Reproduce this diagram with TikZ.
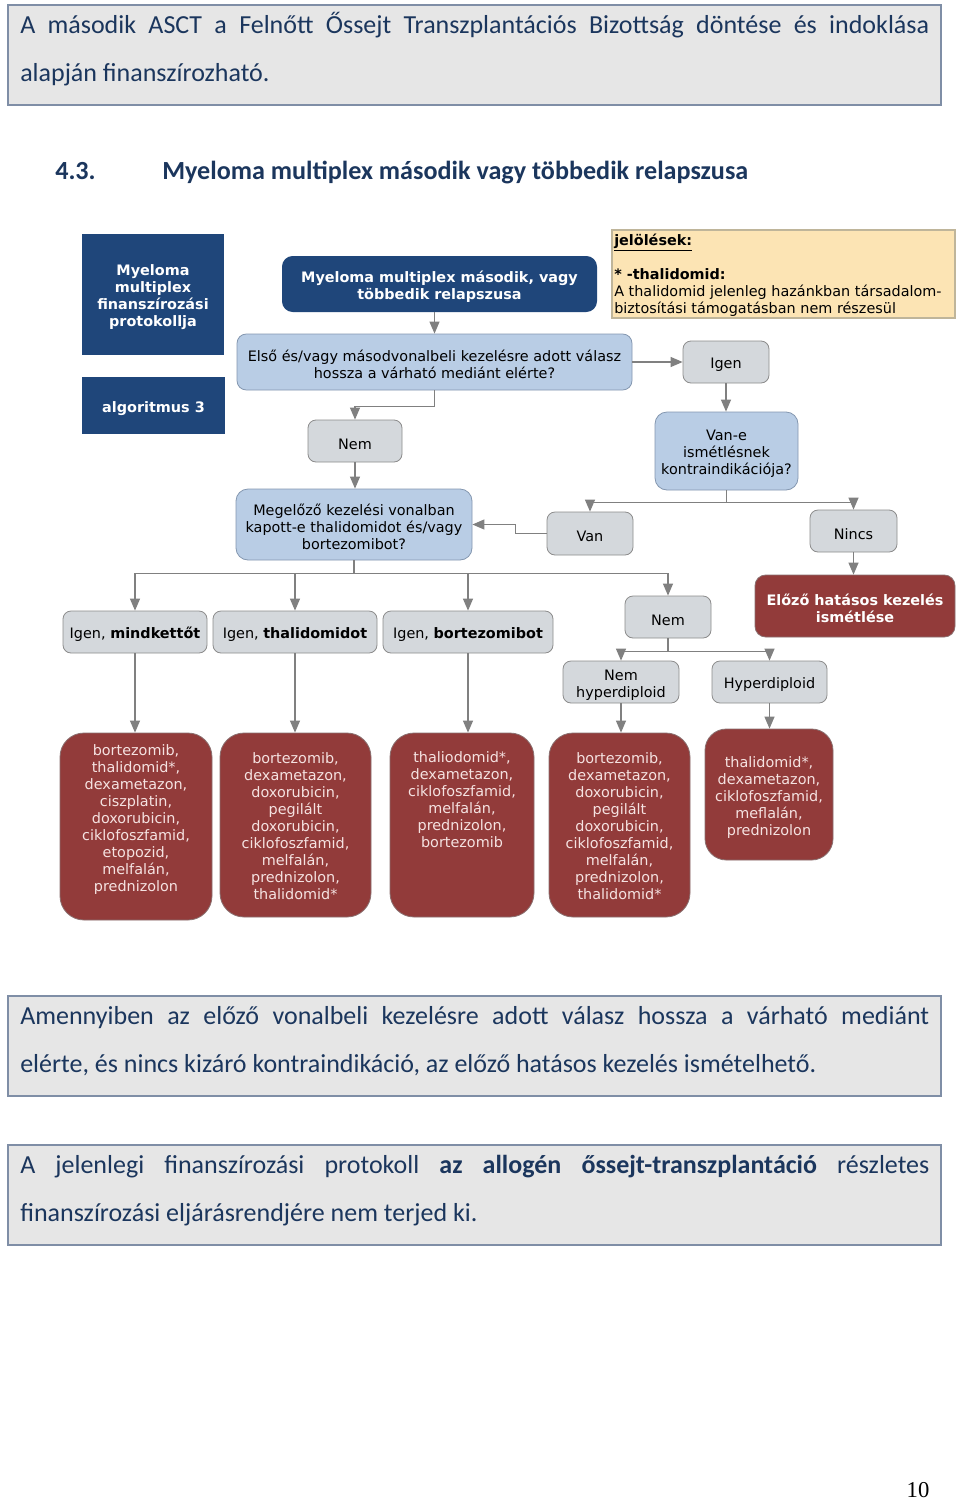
\documentclass[tikz,border=0pt]{standalone}
\usepackage{fontspec}
\setmainfont{DejaVu Sans}
\newfontfamily\calib{Carlito}
\newfontfamily\timesf{Liberation Serif}
\usetikzlibrary{arrows.meta,calc}
\definecolor{navy}{HTML}{1F467A}
\definecolor{bluefill}{HTML}{B9CDE5}
\definecolor{blueline}{HTML}{8497B0}
\definecolor{grayfill}{HTML}{D4D8DC}
\definecolor{grayline}{HTML}{8C8C8C}
\definecolor{redfill}{HTML}{923B3A}
\definecolor{redline}{HTML}{8A7070}
\definecolor{redtxt}{HTML}{F5E2E1}
\definecolor{arrowgray}{HTML}{808080}
\definecolor{legfill}{HTML}{FCE4B4}
\definecolor{legline}{HTML}{BFB59A}
\definecolor{calfill}{HTML}{E6E6E6}
\definecolor{calline}{HTML}{7F8EA6}
\definecolor{calnavy}{HTML}{1B365D}
\newcommand{\tallstrut}{\rule{0pt}{12.5pt}}
\begin{document}
\begin{tikzpicture}[x=0.75pt,y=-0.75pt,
  base/.style={font=\fontsize{10.8}{12.75}\selectfont, inner sep=0pt, align=center},
  lowered/.style={execute at begin node={\tallstrut}},
  graybox/.style={base, lowered, draw=grayline, fill=grayfill, rounded corners=6pt, text=black, line width=0.6pt},
  bluebox/.style={base, lowered, draw=blueline, fill=bluefill, rounded corners=7pt, text=black, line width=0.6pt},
  navybox/.style={base, lowered, fill=navy, text=white, font=\fontsize{10.8}{12.75}\selectfont\bfseries},
  redbox/.style={base, draw=redline, fill=redfill, rounded corners=18pt, line width=0.6pt},
  redlabel/.style={base, text=redtxt, anchor=north},
  conn/.style={draw=arrowgray, line width=0.9pt, -{Triangle[width=7.5pt,length=9pt]}},
  plain/.style={draw=arrowgray, line width=0.9pt},
  calbox/.style={draw=calline, fill=calfill, line width=1.4pt, inner sep=0pt},
  caltext/.style={anchor=base west, inner sep=0pt, text=calnavy, font=\calib\fontsize{19.5}{36}\selectfont}
]
\fill[white] (0,0) rectangle (960,1499);
\useasboundingbox (0,0) rectangle (960,1499);

% top text box
\node[calbox, minimum width=699.75pt, minimum height=75pt] (topbox) at (474.5,55) {};
\node[caltext] (t1a) at (20,33) {\makebox[681.75pt][s]{A második ASCT a Felnőtt Őssejt Transzplantációs Bizottság döntése és indoklása}};
\node[caltext] (t1b) at (20,81) {alapján finanszírozható.};

% heading
\node[caltext, font=\calib\bfseries\fontsize{19.6}{24}\selectfont] (h1) at (55,179) {4.3.};
\node[caltext, font=\calib\bfseries\fontsize{19.6}{24}\selectfont] (h2) at (162,179) {Myeloma multiplex második vagy többedik relapszusa};

% left navy boxes
\node[navybox, minimum width=106.5pt, minimum height=90.75pt] (nav1) at (153,294.5) {\tallstrut Myeloma\\multiplex\\finanszírozási\\protokollja};
\node[navybox, minimum width=107.25pt, minimum height=42.75pt] (nav2) at (153.5,405.5) {algoritmus 3};

% legend
\node[draw=legline, fill=legfill, line width=0.8pt, minimum width=257.25pt, minimum height=66pt, inner sep=0pt] (leg) at (783.5,274) {};
\node[base, align=left, anchor=north west] (legt) at (614,234) {\textbf{\underline{jelölések:}}\\[12.75pt]\textbf{* -thalidomid:}\\A thalidomid jelenleg hazánkban társadalom-\\biztosítási támogatásban nem részesül};

% flow nodes
\node[navybox, rounded corners=8pt, minimum width=236.25pt, minimum height=42pt] (top) at (439.5,284) {\tallstrut Myeloma multiplex második, vagy\\többedik relapszusa};
\node[bluebox, minimum width=296.25pt, minimum height=42pt] (elso) at (434.5,362) {\tallstrut Első és/vagy másodvonalbeli kezelésre adott válasz\\hossza a várható mediánt elérte?};
\node[graybox, minimum width=64.5pt, minimum height=31.5pt] (igen1) at (726,362) {Igen};
\node[bluebox, rounded corners=9pt, minimum width=107.25pt, minimum height=58.5pt] (vane) at (726.5,451) {\tallstrut Van-e\\ismétlésnek\\kontraindikációja?};
\node[graybox, minimum width=70.5pt, minimum height=31.5pt] (nem1) at (355,441) {Nem};
\node[bluebox, rounded corners=9pt, minimum width=177pt, minimum height=53.25pt] (megelozo) at (354,524.5) {\tallstrut Megelőző kezelési vonalban\\kapott-e thalidomidot és/vagy\\bortezomibot?};
\node[graybox, minimum width=64.5pt, minimum height=32.25pt] (van) at (590,533.5) {Van};
\node[graybox, minimum width=65.25pt, minimum height=31.5pt] (nincs) at (853.5,531) {Nincs};
\node[redbox, lowered, rounded corners=8pt, text=white, font=\fontsize{10.8}{12.75}\selectfont\bfseries, minimum width=150pt, minimum height=46.5pt] (elozo) at (855,606) {\tallstrut Előző hatásos kezelés\\ismétlése};
\node[graybox, minimum width=108pt, minimum height=31.5pt] (igenm) at (135,632) {Igen, \textbf{mindkettőt}};
\node[graybox, minimum width=123pt, minimum height=31.5pt] (igent) at (295,632) {Igen, \textbf{thalidomidot}};
\node[graybox, minimum width=127.5pt, minimum height=31.5pt] (igenb) at (468,632) {Igen, \textbf{bortezomibot}};
\node[graybox, minimum width=64.5pt, minimum height=31.5pt] (nem2) at (668,617) {Nem};
\node[graybox, minimum width=87pt, minimum height=31.5pt] (nemh) at (621,682) {\tallstrut Nem\\hyperdiploid};
\node[graybox, minimum width=86.25pt, minimum height=31.5pt] (hyper) at (769.5,682) {Hyperdiploid};

% red therapy boxes
\node[redbox, minimum width=114pt, minimum height=140.25pt] (r1) at (136,826.5) {};
\node[redbox, minimum width=113.25pt, minimum height=138pt] (r2) at (295.5,825) {};
\node[redbox, minimum width=108pt, minimum height=138pt] (r3) at (462,825) {};
\node[redbox, minimum width=105.75pt, minimum height=138pt] (r4) at (619.5,825) {};
\node[redbox, rounded corners=16pt, minimum width=96pt, minimum height=98.25pt] (r5) at (769,794.5) {};
\node[redlabel] (r1t) at (136,744) {bortezomib,\\thalidomid*,\\dexametazon,\\ciszplatin,\\doxorubicin,\\ciklofoszfamid,\\etopozid,\\melfalán,\\prednizolon};
\node[redlabel] (r2t) at (295.5,752) {bortezomib,\\dexametazon,\\doxorubicin,\\pegilált\\doxorubicin,\\ciklofoszfamid,\\melfalán,\\prednizolon,\\thalidomid*};
\node[redlabel] (r3t) at (462,751) {thaliodomid*,\\dexametazon,\\ciklofoszfamid,\\melfalán,\\prednizolon,\\bortezomib};
\node[redlabel] (r4t) at (619.5,752) {bortezomib,\\dexametazon,\\doxorubicin,\\pegilált\\doxorubicin,\\ciklofoszfamid,\\melfalán,\\prednizolon,\\thalidomid*};
\node[redlabel] (r5t) at (769,756) {thalidomid*,\\dexametazon,\\ciklofoszfamid,\\meflalán,\\prednizolon};

% connectors
\draw[conn] (elso.north |- top.south) -- (elso.north);
\draw[conn] (elso.east) -- (igen1.west);
\draw[conn] (igen1.south) -- (igen1.south |- vane.north);
\coordinate (s1) at ($(elso.south)+(0,16)$);
\draw[conn] (elso.south) -- (s1) -| (nem1.north);
\draw[conn] (nem1.south) -- (nem1.south |- megelozo.north);
\draw[conn] (van.west) -- ++(-31,0) |- (megelozo.east);
\coordinate (s2) at ($(vane.south)+(0,12)$);
\draw[plain] (vane.south) -- (s2);
\draw[conn] (s2) -| (van.north);
\draw[conn] (s2) -| (nincs.north);
\draw[conn] (nincs.south) -- (nincs.south |- elozo.north);
\coordinate (s3) at ($(megelozo.south)+(0,13)$);
\draw[plain] (megelozo.south) -- (s3);
\draw[conn] (s3) -| (igenm.north);
\draw[conn] (s3) -| (igent.north);
\draw[conn] (s3) -| (igenb.north);
\draw[conn] (s3) -| (nem2.north);
\draw[conn] (igenm.south) -- (igenm.south |- r1.north);
\draw[conn] (igent.south) -- (igent.south |- r2.north);
\draw[conn] (igenb.south) -- (igenb.south |- r3.north);
\coordinate (s4) at ($(nem2.south)+(0,13)$);
\draw[plain] (nem2.south) -- (s4);
\draw[conn] (s4) -| (nemh.north);
\draw[conn] (s4) -| (hyper.north);
\draw[conn] (nemh.south) -- (nemh.south |- r4.north);
\draw[conn] (hyper.south) -- (hyper.south |- r5.north);

% bottom text boxes
\node[calbox, minimum width=699.75pt, minimum height=75pt] (boxa) at (474.5,1046) {};
\node[caltext] (a1) at (20,1024) {\makebox[681.75pt][s]{Amennyiben az előző vonalbeli kezelésre adott válasz hossza a várható mediánt}};
\node[caltext] (a2) at (20,1072) {elérte, és nincs kizáró kontraindikáció, az előző hatásos kezelés ismételhető.};
\node[calbox, minimum width=699.75pt, minimum height=75pt] (boxb) at (474.5,1195) {};
\node[caltext] (b1) at (20,1173) {\makebox[681.75pt][s]{A jelenlegi finanszírozási protokoll \textbf{az allogén őssejt-transzplantáció} részletes}};
\node[caltext] (b2) at (20,1221) {finanszírozási eljárásrendjére nem terjed ki.};

% page number
\node[anchor=base, inner sep=0pt, font=\timesf\fontsize{17}{20}\selectfont] (pg) at (918,1497) {10};
\end{tikzpicture}
\end{document}
